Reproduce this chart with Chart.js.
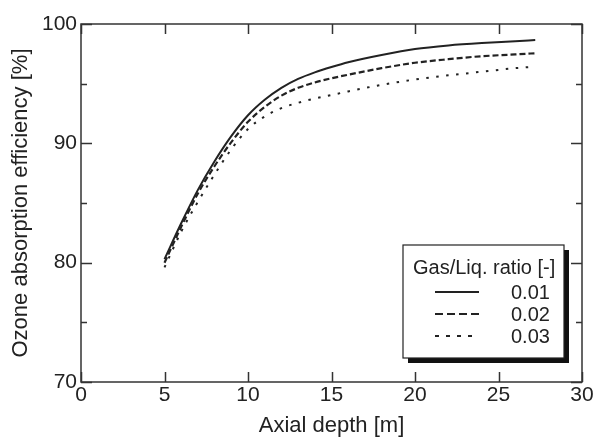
<!DOCTYPE html>
<html>
<head>
<meta charset="utf-8">
<script src="https://cdn.jsdelivr.net/npm/chart.js@4/dist/chart.umd.min.js"></script>
<style>
  html, body { margin: 0; padding: 0; background: #fff; }
  #wrap { width: 596px; height: 439px; }
</style>
</head>
<body>
<div id="wrap"><canvas id="grafico"></canvas></div>
<script>
// axial depth [m]
const depth = [5, 6, 7, 8, 9, 10, 11, 12, 13, 14, 15, 16, 18, 20, 22, 24, 26, 27.2];
// ozone absorption efficiency [%] per gas/liquid ratio
const ratio001 = [80.3, 83.3, 86.1, 88.5, 90.6, 92.35, 93.65, 94.65, 95.4, 95.95, 96.4, 96.8, 97.4, 97.9, 98.2, 98.4, 98.55, 98.65];
const ratio002 = [80.0, 83.0, 85.8, 88.1, 90.1, 91.8, 93.05, 94.0, 94.65, 95.1, 95.45, 95.75, 96.3, 96.75, 97.05, 97.3, 97.45, 97.55];
const ratio003 = [79.6, 82.6, 85.1, 87.4, 89.5, 91.2, 92.25, 92.95, 93.4, 93.75, 94.05, 94.35, 94.9, 95.35, 95.7, 96.0, 96.3, 96.42];
const seriesLabels = ['0.01', '0.02', '0.03'];
const xTicks = [0, 5, 10, 15, 20, 25, 30];
const yMajor = [70, 80, 90, 100];
const yMinor = [75, 85, 95];

const fuente = 'Arial, "Liberation Sans", Helvetica, sans-serif';
const tinta = '#222';

const pts = (ys) => depth.map((x, i) => ({x: x, y: ys[i]}));

// marco + ticks hacia dentro
const marco = {
  id: 'marco',
  afterDraw(chart) {
    const {ctx, chartArea: {left, right, top, bottom}, scales: {x, y}} = chart;
    ctx.save();
    ctx.strokeStyle = '#333';
    ctx.lineWidth = 1.5;
    ctx.strokeRect(left, top, right - left, bottom - top);
    ctx.beginPath();
    xTicks.forEach(v => {
      const px = Math.round(x.getPixelForValue(v)) + 0.5;
      ctx.moveTo(px, bottom); ctx.lineTo(px, bottom - 10);
      ctx.moveTo(px, top); ctx.lineTo(px, top + 10);
    });
    yMajor.forEach(v => {
      const py = Math.round(y.getPixelForValue(v)) + 0.5;
      ctx.moveTo(left, py); ctx.lineTo(left + 11, py);
      ctx.moveTo(right, py); ctx.lineTo(right - 11, py);
    });
    yMinor.forEach(v => {
      const py = Math.round(y.getPixelForValue(v)) + 0.5;
      ctx.moveTo(left, py); ctx.lineTo(left + 6, py);
      ctx.moveTo(right, py); ctx.lineTo(right - 6, py);
    });
    ctx.stroke();
    ctx.restore();
  }
};

// leyenda con sombra
const leyenda = {
  id: 'leyenda',
  afterDraw(chart) {
    const ctx = chart.ctx;
    const bx = 403, by = 245, bw = 161, bh = 113;
    ctx.save();
    ctx.fillStyle = '#111';
    ctx.fillRect(bx + 5, by + 5, bw, bh);
    ctx.fillStyle = '#fff';
    ctx.fillRect(bx, by, bw, bh);
    ctx.strokeStyle = '#222';
    ctx.lineWidth = 1.2;
    ctx.strokeRect(bx, by, bw, bh);

    ctx.fillStyle = tinta;
    ctx.font = '20px ' + fuente;
    ctx.textBaseline = 'middle';
    ctx.textAlign = 'left';
    ctx.fillText('Gas/Liq. ratio [-]', 413, 268);

    const dashes = [[], [8, 4], [4, 7]];
    const rows = [292, 314, 336];
    chart.data.datasets.forEach((ds, i) => {
      ctx.beginPath();
      ctx.setLineDash(dashes[i]);
      ctx.lineWidth = ds.borderWidth;
      ctx.strokeStyle = tinta;
      ctx.moveTo(435, rows[i]);
      ctx.lineTo(479, rows[i]);
      ctx.stroke();
      ctx.setLineDash([]);
      ctx.fillText(ds.label, 511, rows[i] + 1);
    });
    ctx.restore();
  }
};

const data = {
  datasets: [{
    label: seriesLabels[0],
    data: pts(ratio001),
    borderColor: tinta,
    borderWidth: 2,
    borderDash: [],
  }, {
    label: seriesLabels[1],
    data: pts(ratio002),
    borderColor: tinta,
    borderWidth: 2.2,
    borderDash: [6, 3],
  }, {
    label: seriesLabels[2],
    data: pts(ratio003),
    borderColor: tinta,
    borderWidth: 2,
    borderDash: [2.5, 7.5],
  }]
};

const config = {
  type: 'line',
  data,
  options: {
    responsive: true,
    maintainAspectRatio: false,
    animation: false,
    elements: {
      point: { radius: 0 },
      line: { tension: 0.4, cubicInterpolationMode: 'monotone', fill: false }
    },
    layout: { padding: { left: 0, right: 14, top: 24, bottom: 0 } },
    plugins: {
      legend: { display: false },
      tooltip: { enabled: false }
    },
    scales: {
      x: {
        type: 'linear',
        min: 0, max: 30,
        afterBuildTicks: (s) => { s.ticks = xTicks.map(v => ({value: v})); },
        afterFit: (s) => { s.height = 57; },
        grid: { display: false, drawTicks: false },
        border: { display: false },
        ticks: { color: tinta, font: { family: fuente, size: 21 }, padding: 1, maxRotation: 0 },
        title: { display: true, text: 'Axial depth [m]', color: tinta,
                 font: { family: fuente, size: 22 }, padding: { top: 3, bottom: 0 } }
      },
      y: {
        min: 70, max: 100,
        afterBuildTicks: (s) => { s.ticks = yMajor.map(v => ({value: v})); },
        afterFit: (s) => { s.width = 81; },
        grid: { display: false, drawTicks: false },
        border: { display: false },
        ticks: { color: tinta, font: { family: fuente, size: 21 }, padding: 4 },
        title: { display: true, text: 'Ozone absorption efficiency [%]', color: tinta,
                 font: { family: fuente, size: 22 }, padding: { top: 8, bottom: 0 } }
      }
    }
  },
  plugins: [marco, leyenda]
};

const grafico = new Chart(document.getElementById('grafico'), config);
</script>
</body>
</html>
